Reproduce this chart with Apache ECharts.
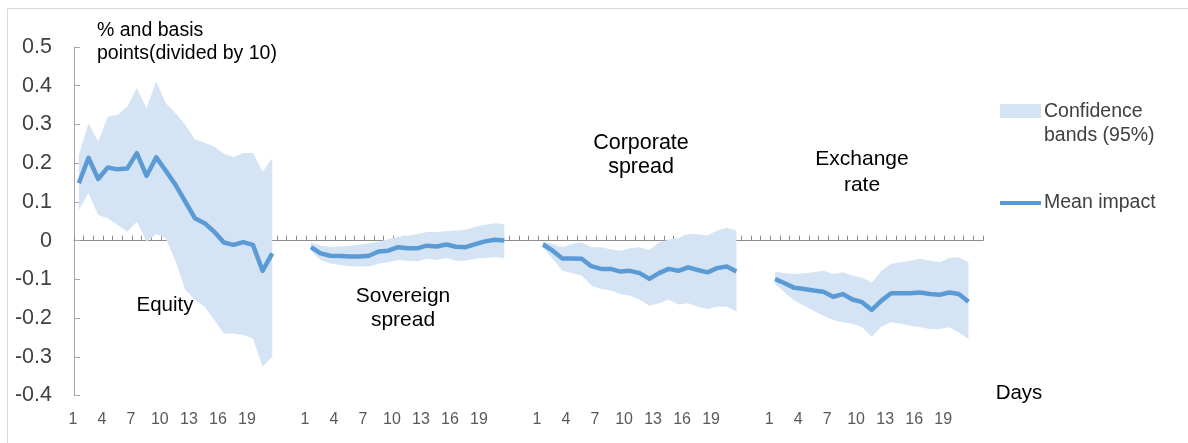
<!DOCTYPE html>
<html>
<head>
<meta charset="utf-8">
<script src="https://cdn.jsdelivr.net/npm/echarts@6/dist/echarts.min.js"></script>
<style>
html,body{margin:0;padding:0;background:#fff;}
#chart{width:1188px;height:443px;}
</style>
</head>
<body>
<div id="chart"></div>
<script>
// Day labels for each panel (21 days)
const dayLabels = ['1','2','3','4','5','6','7','8','9','10','11','12','13','14','15','16','17','18','19','20','21'];
const gapCount = 3; // empty categories between panels

// Equity
const equityMean  = [0.148,0.214,0.159,0.189,0.184,0.186,0.226,0.167,0.215,0.180,0.144,0.101,0.058,0.045,0.023,-0.005,-0.011,-0.004,-0.011,-0.078,-0.033];
const equityUpper = [0.221,0.303,0.256,0.320,0.325,0.346,0.394,0.342,0.411,0.355,0.329,0.299,0.262,0.253,0.243,0.224,0.215,0.226,0.226,0.178,0.213];
const equityLower = [0.079,0.122,0.066,0.058,0.040,0.023,0.049,-0.003,0.017,0.006,-0.054,-0.127,-0.153,-0.170,-0.205,-0.240,-0.240,-0.244,-0.253,-0.325,-0.300];

// Sovereign spread
const sovereignMean  = [-0.017,-0.033,-0.039,-0.040,-0.041,-0.041,-0.039,-0.028,-0.026,-0.017,-0.020,-0.020,-0.013,-0.015,-0.010,-0.016,-0.017,-0.009,-0.002,0.002,0.000];
const sovereignUpper = [-0.004,-0.013,-0.016,-0.015,-0.013,-0.010,-0.007,-0.003,0.004,0.010,0.013,0.017,0.022,0.022,0.024,0.026,0.028,0.036,0.041,0.045,0.043];
const sovereignLower = [-0.026,-0.050,-0.059,-0.063,-0.066,-0.067,-0.067,-0.060,-0.056,-0.050,-0.052,-0.053,-0.047,-0.050,-0.045,-0.052,-0.052,-0.047,-0.045,-0.043,-0.045];

// Corporate spread
const corporateMean  = [-0.010,-0.026,-0.046,-0.046,-0.047,-0.066,-0.073,-0.073,-0.080,-0.078,-0.084,-0.099,-0.084,-0.073,-0.078,-0.069,-0.076,-0.082,-0.071,-0.067,-0.080];
const corporateUpper = [-0.002,-0.009,-0.017,-0.009,-0.004,-0.017,-0.017,-0.022,-0.026,-0.020,-0.017,-0.024,-0.004,0.002,0.007,0.017,0.016,0.013,0.026,0.033,0.026];
const corporateLower = [-0.017,-0.047,-0.078,-0.084,-0.090,-0.116,-0.125,-0.129,-0.138,-0.142,-0.153,-0.168,-0.162,-0.152,-0.165,-0.162,-0.171,-0.177,-0.171,-0.171,-0.183];

// Exchange rate
const exchangeMean  = [-0.099,-0.110,-0.122,-0.125,-0.129,-0.132,-0.145,-0.138,-0.152,-0.159,-0.179,-0.155,-0.136,-0.136,-0.136,-0.134,-0.138,-0.140,-0.134,-0.138,-0.158];
const exchangeUpper = [-0.080,-0.084,-0.086,-0.084,-0.082,-0.078,-0.086,-0.082,-0.090,-0.096,-0.108,-0.078,-0.060,-0.056,-0.052,-0.047,-0.052,-0.056,-0.045,-0.043,-0.056];
const exchangeLower = [-0.112,-0.134,-0.155,-0.168,-0.181,-0.194,-0.205,-0.211,-0.215,-0.224,-0.248,-0.222,-0.211,-0.215,-0.220,-0.224,-0.228,-0.228,-0.224,-0.237,-0.254];

const yTicks = {min:-0.4, max:0.5, interval:0.1};

const panels = [
  {mean:equityMean, upper:equityUpper, lower:equityLower},
  {mean:sovereignMean, upper:sovereignUpper, lower:sovereignLower},
  {mean:corporateMean, upper:corporateUpper, lower:corporateLower},
  {mean:exchangeMean, upper:exchangeUpper, lower:exchangeLower}
];

const categories = [];
const meanData = [], lowerData = [], bandData = [];
panels.forEach(function(p, pi){
  dayLabels.forEach(function(d, i){
    categories.push(d);
    meanData.push(p.mean[i]);
    lowerData.push(p.lower[i]);
    bandData.push(+(p.upper[i] - p.lower[i]).toFixed(4));
  });
  const gaps = pi < panels.length - 1 ? gapCount : 1;
  for (let g = 0; g < gaps; g++) {
    categories.push('');
    meanData.push('-'); lowerData.push('-'); bandData.push('-');
  }
});

const lineColor = '#5b9bd5';
const bandColor = '#d5e4f4';
const FONT = '"Liberation Sans", Arial, Helvetica, sans-serif';

const chart = echarts.init(document.getElementById('chart'), null, {renderer:'canvas'});
chart.setOption({
  animation:false,
  backgroundColor:'#fff',
  textStyle:{fontFamily:FONT},
  grid:{left:74, right:205, top:47, bottom:47.5, containLabel:false},
  xAxis:[{
    type:'category', data:categories, boundaryGap:true,
    axisLine:{onZero:true, lineStyle:{color:'#8c8c8c', width:1}},
    axisTick:{show:true, inside:true, length:5, interval:0, lineStyle:{color:'#8c8c8c'}},
    axisLabel:{show:false}, splitLine:{show:false}
  },{
    type:'category', data:categories, boundaryGap:true, position:'bottom',
    axisLine:{show:false, onZero:false}, axisTick:{show:false},
    axisLabel:{show:true, interval:2, margin:16, fontSize:16, color:'#595959', fontFamily:FONT, padding:[0,12,0,0]},
    splitLine:{show:false}
  }],
  yAxis:{
    type:'value', min:yTicks.min, max:yTicks.max, interval:yTicks.interval,
    axisLine:{show:true, lineStyle:{color:'#a6a6a6'}},
    axisTick:{show:true, inside:true, length:6, lineStyle:{color:'#a6a6a6'}},
    splitLine:{show:false},
    axisLabel:{fontSize:21.5, color:'#404040', margin:22, fontFamily:FONT,
      formatter:function(v){ const r = Math.round(v*10)/10; return r === 0 ? '0' : r.toFixed(1); }}
  },
  series:[
    {name:'lower', type:'line', data:lowerData, stack:'band', stackStrategy:'all',
     showSymbol:false, symbol:'none', lineStyle:{opacity:0, width:0}, silent:true, z:1},
    {name:'Confidence bands (95%)', type:'line', data:bandData, stack:'band', stackStrategy:'all',
     showSymbol:false, symbol:'none', lineStyle:{opacity:0, width:0}, areaStyle:{color:bandColor, opacity:1}, silent:true, z:1},
    {name:'Mean impact', type:'line', data:meanData, showSymbol:false, symbol:'none',
     lineStyle:{color:lineColor, width:4.5, join:'round'}, z:3}
  ],
  graphic:[
    {type:'rect', shape:{x:7.5, y:8.5, width:1300, height:600}, style:{fill:'none', stroke:'#d9d9d9', lineWidth:1}, silent:true},
    {type:'text', x:97, y:19, style:{text:'% and basis\npoints(divided by 10)', font:'19.5px '+FONT, fill:'#000', lineHeight:23, textAlign:'left', textVerticalAlign:'top'}},
    {type:'text', x:165, y:305, style:{text:'Equity', font:'20.5px '+FONT, fill:'#000', textAlign:'center', textVerticalAlign:'middle'}},
    {type:'text', x:403, y:308, style:{text:'Sovereign\nspread', font:'21px '+FONT, fill:'#000', lineHeight:24, textAlign:'center', textVerticalAlign:'middle'}},
    {type:'text', x:641, y:155, style:{text:'Corporate\nspread', font:'21.5px '+FONT, fill:'#000', lineHeight:24, textAlign:'center', textVerticalAlign:'middle'}},
    {type:'text', x:862, y:172, style:{text:'Exchange\nrate', font:'21px '+FONT, fill:'#000', lineHeight:26, textAlign:'center', textVerticalAlign:'middle'}},
    {type:'text', x:1019, y:393, style:{text:'Days', font:'20.5px '+FONT, fill:'#000', textAlign:'center', textVerticalAlign:'middle'}},
    {type:'rect', shape:{x:1000, y:104, width:41, height:14}, style:{fill:bandColor}},
    {type:'text', x:1044, y:124, style:{text:'Confidence\nbands (95%)', font:'19.5px '+FONT, fill:'#404040', lineHeight:24, textAlign:'left', textVerticalAlign:'middle'}},
    {type:'line', shape:{x1:1000, y1:203, x2:1041, y2:203}, style:{stroke:lineColor, lineWidth:4}},
    {type:'text', x:1044, y:203, style:{text:'Mean impact', font:'19.5px '+FONT, fill:'#404040', textAlign:'left', textVerticalAlign:'middle'}}
  ]
});
</script>
</body>
</html>
